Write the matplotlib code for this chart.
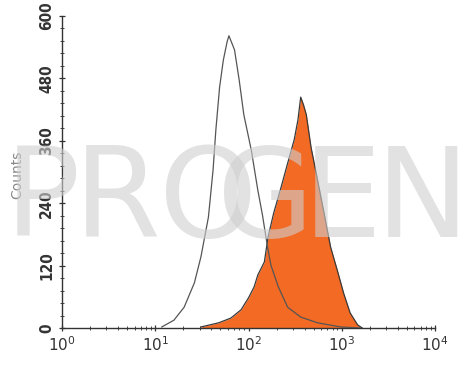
import matplotlib
matplotlib.use("Agg")
import matplotlib.pyplot as plt
from matplotlib.ticker import FixedLocator, LogLocator, NullFormatter
import numpy as np

# ---- data (log10 of fluorescence, counts) ----
control_log = [1.07, 1.20, 1.31, 1.42, 1.49, 1.57, 1.62, 1.65, 1.69, 1.73, 1.77, 1.79,
               1.85, 1.90, 1.95, 2.03, 2.10, 2.15, 2.20, 2.24, 2.32, 2.42, 2.56, 2.74, 2.99, 3.20]
control_cnt = [2, 15, 40, 87, 137, 213, 304, 381, 463, 515, 550, 562,
               535, 477, 410, 342, 265, 217, 160, 121, 79, 40, 21, 10, 2, 0]

stained_log = [1.49, 1.68, 1.81, 1.92, 2.00, 2.06, 2.10, 2.17, 2.21, 2.27, 2.35, 2.42,
               2.49, 2.53, 2.56, 2.59, 2.62, 2.67, 2.74, 2.81, 2.88, 2.96, 3.02, 3.09, 3.17, 3.22]
stained_cnt = [2, 10, 19, 35, 58, 79, 102, 127, 175, 221, 271, 317,
               362, 400, 444, 429, 410, 348, 285, 221, 156, 106, 67, 29, 6, 0]

y_ticks = [0, 120, 240, 360, 480, 600]
x_ticks = [1, 10, 100, 1000, 10000]
x_labels = [r"$10^0$", r"$10^1$", r"$10^2$", r"$10^3$", r"$10^4$"]
watermark = ["P", "R", "O", "G", "E", "N"]
watermark_x = [42, 117, 208, 265, 342, 422]

W, H = 470, 365
fig = plt.figure(figsize=(W / 100, H / 100), dpi=100)
fig.patch.set_facecolor("white")
ax = fig.add_axes([62 / W, (H - 328) / H, (435 - 62) / W, (328 - 16) / H])

xs = 10 ** np.array(stained_log)
ax.fill_between(xs, stained_cnt, 0, color="#f26a24", lw=0, zorder=2)
ax.plot(xs, stained_cnt, color="#3a3a3a", lw=0.9, zorder=3)
ax.plot(10 ** np.array(control_log), control_cnt, color="#555555", lw=0.9, zorder=4)

ax.set_xscale("log")
ax.set_xlim(1, 10000)
ax.set_ylim(0, 600)
ax.xaxis.set_major_locator(FixedLocator(x_ticks))
ax.set_xticklabels(x_labels)
ax.xaxis.set_minor_locator(LogLocator(base=10, subs=np.arange(2, 10)))
ax.xaxis.set_minor_formatter(NullFormatter())
ax.yaxis.set_major_locator(FixedLocator(y_ticks))
ax.yaxis.set_minor_locator(FixedLocator(np.arange(0, 601, 24)))

for s in ["top", "right"]:
    ax.spines[s].set_visible(False)
for s in ["left", "bottom"]:
    ax.spines[s].set_color("#333333")
    ax.spines[s].set_linewidth(1.0)

ax.tick_params(axis="both", which="major", direction="inout", length=5, width=0.9,
               colors="#333333", labelsize=11, pad=3)
ax.tick_params(axis="both", which="minor", direction="inout", length=3, width=0.7,
               colors="#444444")
ax.set_yticklabels([str(v) for v in y_ticks], rotation=90, va="center",
                   fontweight="bold", family="DejaVu Sans", fontstretch="condensed")
for lab in ax.get_xticklabels():
    lab.set_fontweight("bold")
ax.set_ylabel("Counts", color="#888888", fontsize=10, labelpad=4)
ax.yaxis.set_label_coords(-0.10, 0.49)

for ch, xp in zip(watermark, watermark_x):
    fig.text(xp / W, (H - 237) / H, ch, ha="center", va="baseline",
             fontsize=90, family="DejaVu Sans", color="#cfcfcf", alpha=0.6, zorder=10)

fig.savefig("out.png", dpi=100)
